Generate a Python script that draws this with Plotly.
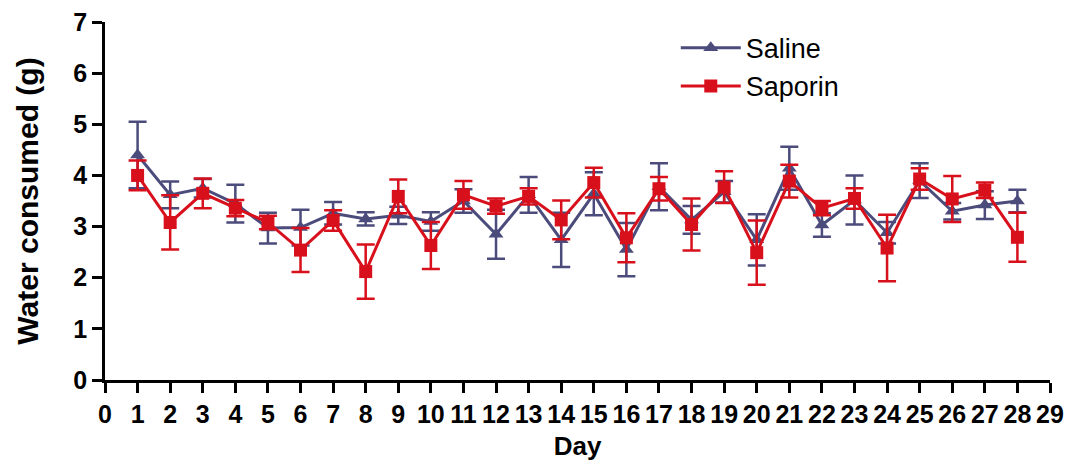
import plotly.graph_objects as go

days = list(range(1, 29))
saline_mean = [4.40, 3.62, 3.75, 3.45, 2.97, 2.98, 3.26, 3.15, 3.22, 3.10, 3.50, 2.85,
               3.62, 2.74, 3.64, 2.55, 3.78, 3.13, 3.68, 2.74, 4.14, 3.03, 3.52, 2.88,
               3.90, 3.30, 3.42, 3.50]
saline_sem = [0.65, 0.26, 0.18, 0.37, 0.30, 0.35, 0.22, 0.13, 0.17, 0.18, 0.23, 0.48,
              0.35, 0.53, 0.42, 0.52, 0.46, 0.27, 0.21, 0.50, 0.42, 0.23, 0.48, 0.21,
              0.34, 0.16, 0.27, 0.22]
saporin_mean = [4.00, 3.08, 3.65, 3.36, 3.08, 2.54, 3.12, 2.12, 3.59, 2.63, 3.62, 3.40,
                3.59, 3.13, 3.86, 2.78, 3.74, 3.04, 3.77, 2.49, 3.89, 3.36, 3.55, 2.58,
                3.93, 3.54, 3.71, 2.79]
saporin_sem = [0.29, 0.53, 0.29, 0.16, 0.13, 0.43, 0.20, 0.53, 0.33, 0.46, 0.27, 0.15,
               0.16, 0.38, 0.29, 0.48, 0.23, 0.51, 0.31, 0.63, 0.32, 0.14, 0.20, 0.65,
               0.21, 0.45, 0.15, 0.48]
x_ticks = list(range(0, 30))
y_ticks = list(range(0, 8))

saline_color = "#4b4b7c"
saporin_color = "#d8101c"

fig = go.Figure()
fig.add_trace(go.Scatter(
    x=days, y=saline_mean, name="Saline", mode="lines+markers",
    line=dict(color=saline_color, width=3),
    marker=dict(symbol="triangle-up", size=13, color=saline_color),
    error_y=dict(type="data", array=saline_sem, visible=True, color=saline_color,
                 thickness=2.5, width=9),
))
fig.add_trace(go.Scatter(
    x=days, y=saporin_mean, name="Saporin", mode="lines+markers",
    line=dict(color=saporin_color, width=3),
    marker=dict(symbol="square", size=13, color=saporin_color),
    error_y=dict(type="data", array=saporin_sem, visible=True, color=saporin_color,
                 thickness=2.5, width=9),
))

font_family = "Liberation Sans, Arial, sans-serif"
fig.update_layout(
    width=1066, height=466,
    margin=dict(l=105, r=16, t=22, b=86, autoexpand=False),
    paper_bgcolor="white", plot_bgcolor="white",
    font=dict(family=font_family, color="black"),
    showlegend=True,
    legend=dict(x=0.604, y=0.995, xanchor="left", yanchor="top",
                font=dict(size=27, family=font_family, color="black"),
                bgcolor="rgba(0,0,0,0)", itemwidth=60, tracegroupgap=0),
)
fig.update_xaxes(
    range=[0, 29], tickmode="array", tickvals=x_ticks,
    ticktext=[f"<b>{t}</b>" for t in x_ticks],
    showgrid=False, zeroline=False, showline=True, linecolor="black", linewidth=2.5,
    ticks="outside", ticklen=10, tickwidth=2.5, tickcolor="black",
    tickfont=dict(size=25, family=font_family), automargin=False,
    title=dict(text="<b>Day</b>", font=dict(size=26, family=font_family), standoff=11),
)
fig.update_yaxes(
    range=[0, 7], tickmode="array", tickvals=y_ticks,
    ticktext=[f"<b>{t}</b>" for t in y_ticks],
    showgrid=False, zeroline=False, showline=True, linecolor="black", linewidth=2.5,
    ticks="outside", ticklen=10, tickwidth=2.5, tickcolor="black",
    tickfont=dict(size=25, family=font_family), automargin=False,
    title=dict(text="<b>Water consumed (g)</b>", font=dict(size=30, family=font_family), standoff=26),
)

fig.write_html("out.html", config={"displayModeBar": False},
               post_script="document.body.style.margin='0';")
